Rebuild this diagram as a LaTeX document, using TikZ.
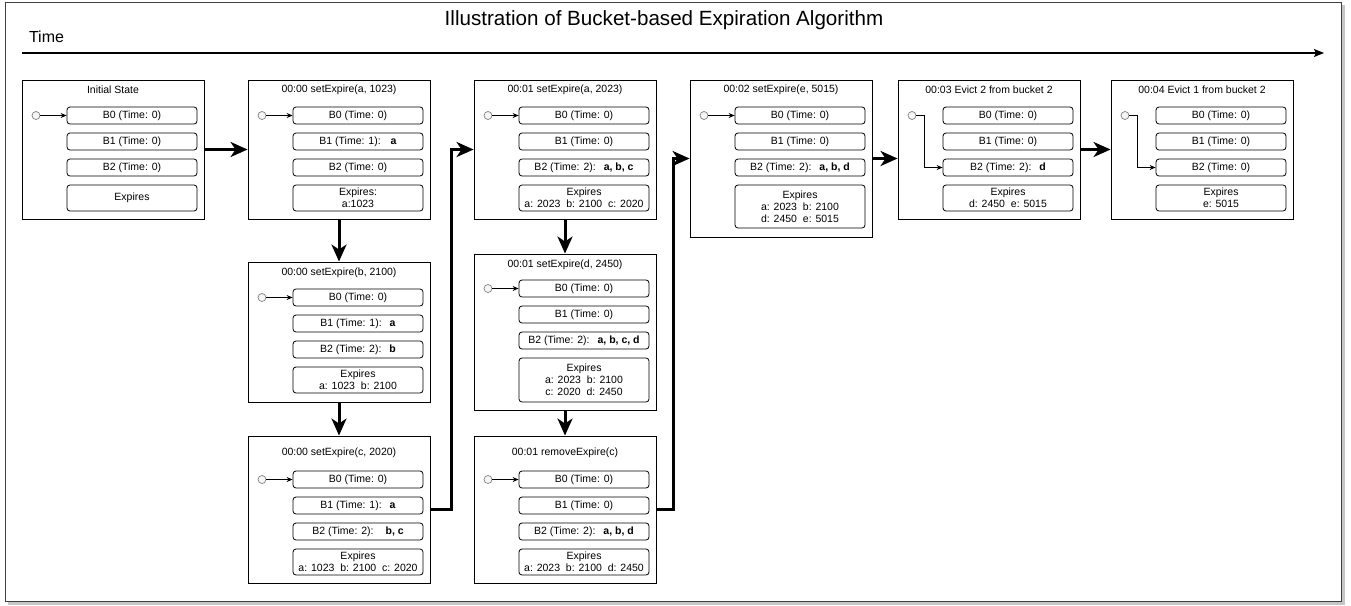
\documentclass[tikz,border=0pt]{standalone}
\usepackage{fontspec}
\setmainfont{Liberation Sans}
\usetikzlibrary{arrows.meta}

\tikzset{
	frame/.style={draw=black,fill=white,line width=0.9pt,minimum width=182pt,inner sep=0pt},
	row/.style={draw=black,rounded corners=3pt,line width=0.8pt,minimum width=130pt,minimum height=17pt,inner sep=1pt,font=\fontsize{10.5}{12}\selectfont},
	exp/.style={row,align=center},
	head/.style={font=\fontsize{10.5}{12}\selectfont,inner sep=0pt},
	dot/.style={circle,draw=gray,fill=gray!8,line width=0.7pt,minimum size=8pt,inner sep=0pt},
	ptr/.style={line width=0.8pt,-{Stealth[length=6pt,width=5pt]}},
	bigarrow/.style={line width=3pt,-{Stealth[length=17pt,width=15pt,inset=5pt]}},
	timeline/.style={line width=1.3pt,-{Stealth[length=10pt,width=8pt,inset=2pt]}}
}

\begin{document}
\begin{tikzpicture}[x=1pt,y=-1pt]
		\useasboundingbox (0,0) rectangle (1351,605);
		% outer frame with shadow
		\path[fill=gray!45] (8,5) rectangle (1345,605);
		\path[draw=black!75,fill=white,line width=1pt] (5,2) rectangle (1341,601);

		\node[font=\fontsize{20.6}{23}\selectfont] (title) at (664,20) {Illustration of Bucket-based Expiration Algorithm};
		\node[font=\fontsize{16}{18}\selectfont] (time) at (46.5,37) {Time};
		\coordinate (t0) at (22,53);
		\coordinate (t1) at (1324,53);
		\draw[timeline] (t0) -- (t1);

		% Initial State
		\node[frame,minimum height=139pt] (s1) at (113,149.5) {};
		\node[head] (s1h) at (113,90) {Initial State};
		\node[row] (s1b0) at (132,115.5) {B0 (Time: 0)};
		\node[row] (s1b1) at (132,141.5) {B1 (Time: 0)};
		\node[row] (s1b2) at (132,167.5) {B2 (Time: 0)};
		\node[exp,minimum height=26pt] (s1e) at (132,198) {Expires};
		\node[dot] (s1c) at (36,115.5) {};
		\draw[ptr] (s1c) -- (s1b0);

		% setExpire(a, 1023)
		\node[frame,minimum height=139pt] (s2) at (339,149.5) {};
		\node[head] (s2h) at (339,90) {00:00 setExpire(a, 1023)};
		\node[row] (s2b0) at (358,115.5) {B0 (Time: 0)};
		\node[row] (s2b1) at (358,141.5) {B1 (Time: 1):\hspace{10pt}\textbf{a}};
		\node[row] (s2b2) at (358,167.5) {B2 (Time: 0)};
		\node[exp,minimum height=26pt] (s2e) at (358,198) {Expires:\\a:1023};
		\node[dot] (s2c) at (262,115.5) {};
		\draw[ptr] (s2c) -- (s2b0);

		% setExpire(b, 2100)
		\node[frame,minimum height=140pt] (s2x) at (339,332) {};
		\node[head] (s2xh) at (339,273) {00:00 setExpire(b, 2100)};
		\node[row] (s2xb0) at (358,297.5) {B0 (Time: 0)};
		\node[row] (s2xb1) at (358,323.5) {B1 (Time: 1):\hspace{8pt}\textbf{a}};
		\node[row] (s2xb2) at (358,349.5) {B2 (Time: 2):\hspace{8pt}\textbf{b}};
		\node[exp,minimum height=26pt] (s2xe) at (358,380) {Expires\\a: 1023\ \ b: 2100};
		\node[dot] (s2xc) at (262,297.5) {};
		\draw[ptr] (s2xc) -- (s2xb0);

		% setExpire(c, 2020)
		\node[frame,minimum height=147pt] (s2y) at (339,509.5) {};
		\node[head] (s2yh) at (339,453) {00:00 setExpire(c, 2020)};
		\node[row] (s2yb0) at (358,479.5) {B0 (Time: 0)};
		\node[row] (s2yb1) at (358,505.5) {B1 (Time: 1):\hspace{8pt}\textbf{a}};
		\node[row] (s2yb2) at (358,531.5) {B2 (Time: 2):\hspace{12pt}\textbf{b, c}};
		\node[exp,minimum height=26pt] (s2ye) at (358,562) {Expires\\a: 1023\ \ b: 2100\ \ c: 2020};
		\node[dot] (s2yc) at (262,479.5) {};
		\draw[ptr] (s2yc) -- (s2yb0);

		% setExpire(a, 2023)
		\node[frame,minimum height=139pt] (s3) at (565,149.5) {};
		\node[head] (s3h) at (565,90) {00:01 setExpire(a, 2023)};
		\node[row] (s3b0) at (584,115.5) {B0 (Time: 0)};
		\node[row] (s3b1) at (584,141.5) {B1 (Time: 0)};
		\node[row] (s3b2) at (584,167.5) {B2 (Time: 2):\hspace{8pt}\textbf{a, b, c}};
		\node[exp,minimum height=26pt] (s3e) at (584,198) {Expires\\a: 2023\ \ b: 2100\ \ c: 2020};
		\node[dot] (s3c) at (488,115.5) {};
		\draw[ptr] (s3c) -- (s3b0);

		% setExpire(d, 2450)
		\node[frame,minimum height=156pt] (s3x) at (565,332) {};
		\node[head] (s3xh) at (565,265) {00:01 setExpire(d, 2450)};
		\node[row] (s3xb0) at (584,288.5) {B0 (Time: 0)};
		\node[row] (s3xb1) at (584,314.5) {B1 (Time: 0)};
		\node[row] (s3xb2) at (584,340.5) {B2 (Time: 2):\hspace{8pt}\textbf{a, b, c, d}};
		\node[exp,minimum height=44pt] (s3xe) at (584,380) {Expires\\a: 2023\ \ b: 2100\\c: 2020\ \ d: 2450};
		\node[dot] (s3xc) at (488,288.5) {};
		\draw[ptr] (s3xc) -- (s3xb0);

		% removeExpire(c)
		\node[frame,minimum height=147pt] (s3y) at (565,509.5) {};
		\node[head] (s3yh) at (565,453) {00:01 removeExpire(c)};
		\node[row] (s3yb0) at (584,479.5) {B0 (Time: 0)};
		\node[row] (s3yb1) at (584,505.5) {B1 (Time: 0)};
		\node[row] (s3yb2) at (584,531.5) {B2 (Time: 2):\hspace{8pt}\textbf{a, b, d}};
		\node[exp,minimum height=26pt] (s3ye) at (584,562) {Expires\\a: 2023\ \ b: 2100\ \ d: 2450};
		\node[dot] (s3yc) at (488,479.5) {};
		\draw[ptr] (s3yc) -- (s3yb0);

		% setExpire(e, 5015)
		\node[frame,minimum height=157pt] (s4) at (781,158.5) {};
		\node[head] (s4h) at (781,90) {00:02 setExpire(e, 5015)};
		\node[row] (s4b0) at (800,115.5) {B0 (Time: 0)};
		\node[row] (s4b1) at (800,141.5) {B1 (Time: 0)};
		\node[row] (s4b2) at (800,167.5) {B2 (Time: 2):\hspace{8pt}\textbf{a, b, d}};
		\node[exp,minimum height=43pt] (s4e) at (800,206.5) {Expires\\a: 2023\ \ b: 2100\\d: 2450\ \ e: 5015};
		\node[dot] (s4c) at (704,115.5) {};
		\draw[ptr] (s4c) -- (s4b0);

		% Evict 2
		\node[frame,minimum height=139pt] (s5) at (989,149.5) {};
		\node[head] (s5h) at (989,90) {00:03 Evict 2 from bucket 2};
		\node[row] (s5b0) at (1008,115.5) {B0 (Time: 0)};
		\node[row] (s5b1) at (1008,141.5) {B1 (Time: 0)};
		\node[row] (s5b2) at (1008,167.5) {B2 (Time: 2):\hspace{8pt}\textbf{d}};
		\node[exp,minimum height=26pt] (s5e) at (1008,198) {Expires\\d: 2450\ \ e: 5015};
		\node[dot] (s5c) at (912,115.5) {};
		\draw[ptr] (s5c) -- ++(12,0) |- (s5b2);

		% Evict 1
		\node[frame,minimum height=139pt] (s6) at (1202,149.5) {};
		\node[head] (s6h) at (1202,90) {00:04 Evict 1 from bucket 2};
		\node[row] (s6b0) at (1221,115.5) {B0 (Time: 0)};
		\node[row] (s6b1) at (1221,141.5) {B1 (Time: 0)};
		\node[row] (s6b2) at (1221,167.5) {B2 (Time: 0)};
		\node[exp,minimum height=26pt] (s6e) at (1221,198) {Expires\\e: 5015};
		\node[dot] (s6c) at (1125,115.5) {};
		\draw[ptr] (s6c) -- ++(12,0) |- (s6b2);

		% steps
		\draw[bigarrow] (s1) -- (s2);
		\draw[bigarrow] (s2) -- (s2x);
		\draw[bigarrow] (s2x) -- (s2y);
		\draw[bigarrow] (s2y.east) -- ++(21,0) |- (s3.west);
		\draw[bigarrow] (s3) -- (s3x);
		\draw[bigarrow] (s3x) -- (s3y);
		\draw[bigarrow] (s3y.east) -- ++(17,0) |- (s4.west);
		\draw[bigarrow] (s4.east) -- (s4.east -| s5.west);
		\draw[bigarrow] (s5) -- (s6);
	\end{tikzpicture}
\end{document}
